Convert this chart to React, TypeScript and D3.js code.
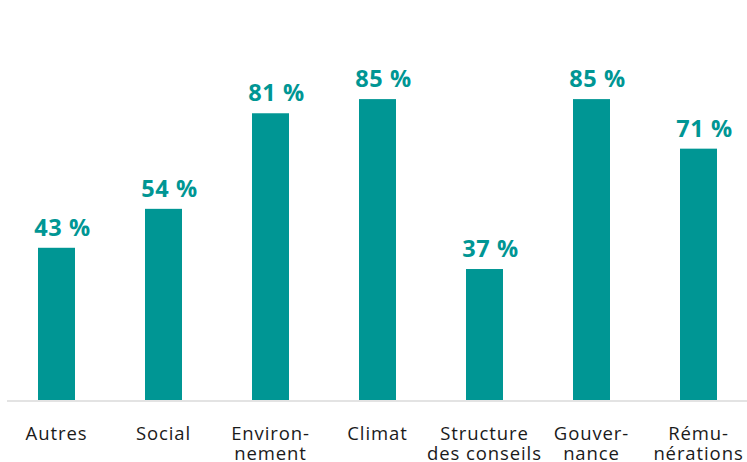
import React from "react";
import * as d3 from "d3";

const categories: string[][] = [
  ["Autres"],
  ["Social"],
  ["Environ-", "nement"],
  ["Climat"],
  ["Structure", "des conseils"],
  ["Gouver-", "nance"],
  ["Rému-", "nérations"],
];
const values: number[] = [43, 54, 81, 85, 37, 85, 71];
const keys = categories.map((c) => c.join(" "));

const W = 747;
const H = 462;
const TEAL = "#009694";

export default function App() {
  const x = d3
    .scaleBand<string>()
    .domain(keys)
    .range([3, 752])
    .paddingInner(1 - 37 / 107)
    .paddingOuter((1 - 37 / 107) / 2);
  const y = d3.scaleLinear().domain([0, 100]).range([400, 46]);

  return (
    <svg
      width={W}
      height={H}
      style={{ position: "absolute", left: 0, top: 0, background: "#fff" }}
    >
      <line x1={7} x2={747} y1={401} y2={401} stroke="#e3e3e3" strokeWidth={2} />
      {values.map((v, i) => {
        const k = keys[i];
        const bx = x(k)!;
        const bw = x.bandwidth();
        const cx = bx + bw / 2;
        return (
          <g key={k}>
            <rect x={bx} y={y(v)} width={bw} height={y(0) - y(v)} fill={TEAL} />
            <text
              x={cx + 6}
              y={y(v) - 12}
              textAnchor="middle"
              fontFamily="'Open Sans', sans-serif"
              fontWeight={700}
              fontSize={23.5}
              letterSpacing={0.6}
              fill={TEAL}
            >
              {`${v} %`}
            </text>
            {categories[i].map((line, j) => (
              <text
                key={j}
                x={cx}
                y={440 + j * 20}
                textAnchor="middle"
                fontFamily="'Open Sans', sans-serif"
                fontSize={18.5}
                letterSpacing={0.9}
                fill="#1a1a1a"
              >
                {line}
              </text>
            ))}
          </g>
        );
      })}
    </svg>
  );
}
